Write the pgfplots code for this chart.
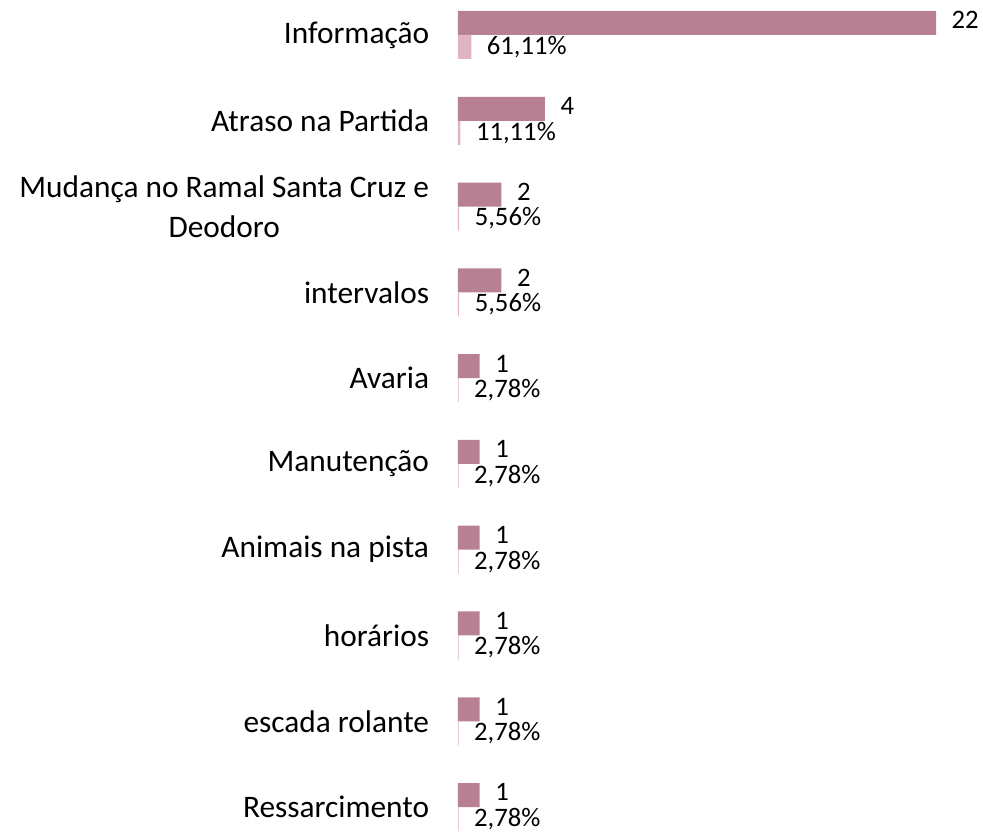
\documentclass[border=0pt]{standalone}
\usepackage{fontspec}
\setmainfont{Carlito}
\usepackage{pgfplots}
\usepackage{pgfplotstable}
\pgfplotsset{compat=1.18}
\definecolor{cnt}{RGB}{184,128,147}
\definecolor{pctc}{RGB}{224,180,196}
\pgfplotstableread{
y count pct p
9 22 0.6111 61.11
8 4 0.1111 11.11
7 2 0.0556 5.56
6 2 0.0556 5.56
5 1 0.0278 2.78
4 1 0.0278 2.78
3 1 0.0278 2.78
2 1 0.0278 2.78
1 1 0.0278 2.78
0 1 0.0278 2.78
}\data
\begin{document}
\begin{tikzpicture}
\path[use as bounding box] (0,0) rectangle (737.25pt,624pt);
\begin{axis}[
  at={(343.5pt,0pt)}, anchor=south west,
  scale only axis, width=393.75pt, height=624pt,
  xmin=0, xmax=24.16, ymin=-0.291, ymax=9.408,
  axis line style={draw=none},
  major tick style={draw=none},
  xtick=\empty,
  ytick={0,...,9},
  yticklabels={Ressarcimento, escada rolante, horários, Animais na pista, Manutenção, Avaria, intervalos, {Mudança no Ramal Santa Cruz e\\Deodoro}, Atraso na Partida, Informação},
  yticklabel style={align=center, font=\fontsize{23.5}{30}\selectfont, inner sep=0pt, xshift=-17.25pt},
  /pgf/number format/assume math mode=true,
  xbar, bar width=18pt,
  clip=false,
]
\addplot[draw=none, fill=cnt, bar shift=9pt,
  nodes near coords, point meta=x,
  every node near coord/.append style={anchor=west, inner sep=0pt, xshift=11.5pt, yshift=2pt, font=\fontsize{20}{24}\selectfont, text=black}]
  table[x=count, y=y] {\data};
\addplot[draw=none, fill=pctc, bar shift=-9pt,
  nodes near coords={\pgfmathprintnumber[fixed, fixed zerofill, precision=2, use comma, assume math mode=true]{\pgfplotspointmeta}\%},
  point meta=explicit,
  every node near coord/.append style={anchor=west, inner sep=0pt, xshift=11.5pt, yshift=0pt, font=\fontsize{20}{24}\selectfont, text=black}]
  table[x=pct, y=y, meta=p] {\data};
\end{axis}
\end{tikzpicture}
\end{document}
